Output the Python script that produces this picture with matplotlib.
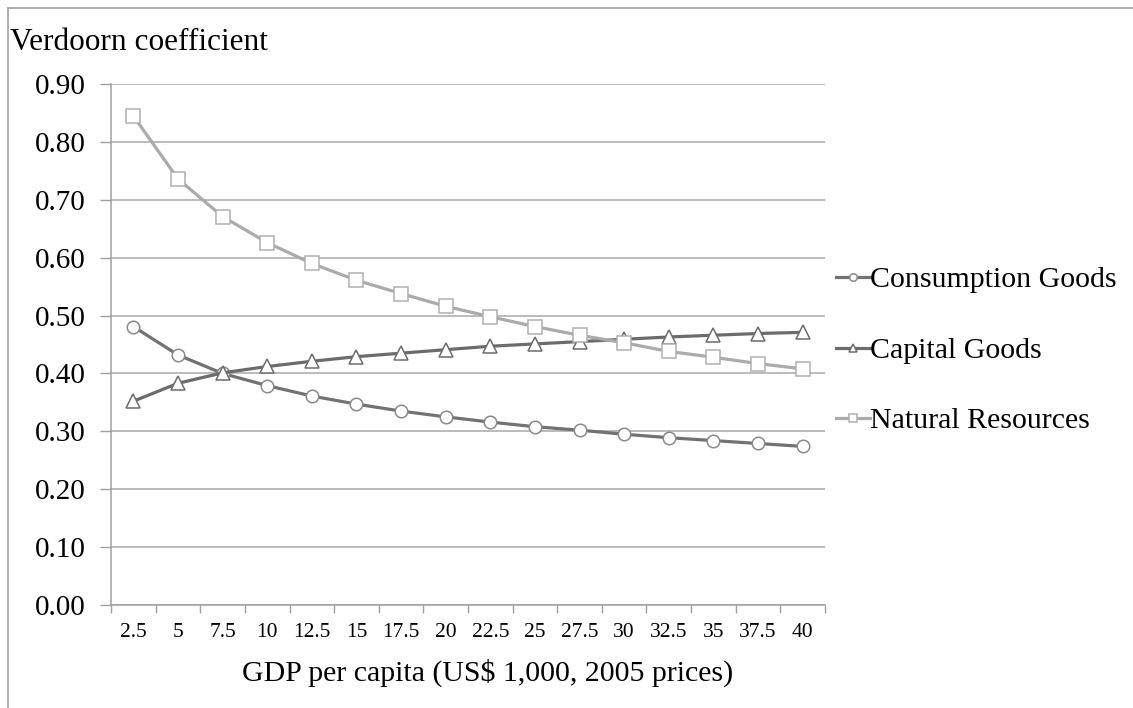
import matplotlib
matplotlib.use("Agg")
import matplotlib.pyplot as plt
from matplotlib.lines import Line2D
import numpy as np

# GDP per capita categories (US$ 1,000, 2005 prices)
gdp_labels = ["2.5", "5", "7.5", "10", "12.5", "15", "17.5", "20",
              "22.5", "25", "27.5", "30", "32.5", "35", "37.5", "40"]

consumption_goods = [0.481, 0.432, 0.400, 0.379, 0.361, 0.347, 0.335, 0.325,
                     0.316, 0.308, 0.302, 0.295, 0.289, 0.284, 0.279, 0.274]
capital_goods = [0.352, 0.383, 0.401, 0.412, 0.421, 0.429, 0.435, 0.441,
                 0.447, 0.451, 0.455, 0.459, 0.463, 0.466, 0.469, 0.471]
natural_resources = [0.845, 0.736, 0.671, 0.626, 0.590, 0.561, 0.538, 0.516,
                     0.498, 0.481, 0.466, 0.453, 0.438, 0.428, 0.417, 0.408]

y_ticks = [0.0, 0.1, 0.2, 0.3, 0.4, 0.5, 0.6, 0.7, 0.8, 0.9]

plt.rcParams["font.family"] = ["Liberation Serif", "DejaVu Serif"]

W, H = 1133, 708
fig = plt.figure(figsize=(W / 100, H / 100), dpi=100)
ax = fig.add_axes([111 / W, 1 - 605 / H, (825 - 111) / W, (605 - 84) / H])

x = np.arange(len(gdp_labels))
lw = 2.3
ax.plot(x, consumption_goods, color="#727272", lw=lw, marker="o", ms=9,
        mfc="white", mec="#8a8a8a", mew=1.1, label="Consumption Goods", zorder=3)
ax.plot(x, capital_goods, color="#6c6c6c", lw=lw, marker="^", ms=10,
        mfc="white", mec="#6c6c6c", mew=1.1, label="Capital Goods", zorder=3)
ax.plot(x, natural_resources, color="#ababab", lw=lw, marker="s", ms=9.5,
        mfc="white", mec="#b0b0b0", mew=1.1, label="Natural Resources", zorder=4)

ax.set_xlim(-0.5, len(gdp_labels) - 0.5)
ax.set_ylim(0, 0.9)
ax.set_yticks(y_ticks)
ax.set_yticklabels([f"{v:.2f}" for v in y_ticks], fontsize=21)
ax.set_xticks(x)
ax.set_xticklabels(gdp_labels, fontsize=15.5)
ax.set_xticks(np.arange(-0.5, len(gdp_labels)), minor=True)
ax.tick_params(axis="x", which="major", length=0, pad=13)
ax.tick_params(axis="x", which="minor", length=6, color="#a0a0a0", width=1)
ax.tick_params(axis="y", length=8, color="#a0a0a0", width=1, pad=10)

ax.grid(axis="y", color="#a8a8a8", lw=1.1)
ax.set_axisbelow(True)
for s in ["top", "right"]:
    ax.spines[s].set_visible(False)
for s in ["left", "bottom"]:
    ax.spines[s].set_color("#a0a0a0")
    ax.spines[s].set_linewidth(1.1)

fig.text(488 / W, 1 - 673 / H, "GDP per capita (US$ 1,000, 2005 prices)",
         fontsize=21.5, ha="center", va="center")
fig.text(10 / W, 1 - 43 / H, "Verdoorn coefficient", fontsize=22.5,
         va="center", ha="left")

leg = ax.legend(loc="center left", bbox_to_anchor=(836 / W, 1 - 350.5 / H),
                bbox_transform=fig.transFigure, frameon=False,
                fontsize=21.5, handlelength=1.15, handletextpad=0.0,
                labelspacing=1.46, markerscale=0.6, borderaxespad=0,
                borderpad=0)

# outer frame lines
fig.add_artist(Line2D([8 / W, 1], [1 - 8 / H, 1 - 8 / H], color="#a0a0a0",
                      lw=1.2, transform=fig.transFigure))
fig.add_artist(Line2D([8 / W, 8 / W], [0, 1 - 8 / H], color="#a0a0a0",
                      lw=1.2, transform=fig.transFigure))

fig.savefig("out.png", dpi=100, facecolor="white")
